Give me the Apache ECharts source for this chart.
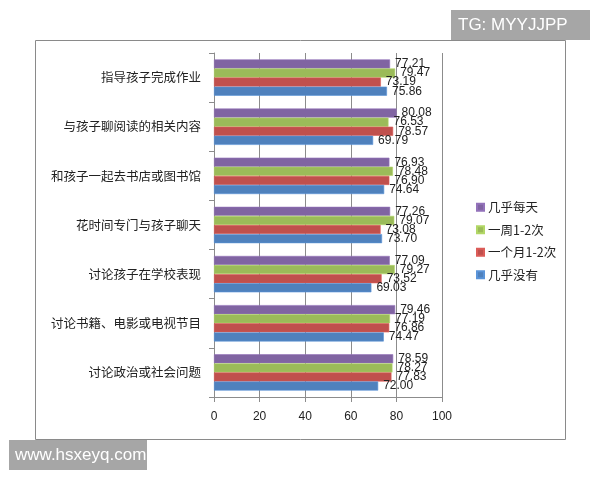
<!DOCTYPE html>
<html>
<head>
<meta charset="utf-8">
<script src="https://cdn.jsdelivr.net/npm/echarts@6/dist/echarts.min.js"></script>
<style>
html, body { margin: 0; padding: 0; background: #fff; }
#chart { width: 600px; height: 480px; }
</style>
</head>
<body>
<div id="chart"></div>
<script>
// 类目，从下到上
var categories = ['讨论政治或社会问题', '讨论书籍、电影或电视节目', '讨论孩子在学校表现',
	'花时间专门与孩子聊天', '和孩子一起去书店或图书馆', '与孩子聊阅读的相关内容', '指导孩子完成作业'];
// 系列，组内从上到下
var seriesNames = ['几乎每天', '一周1-2次', '一个月1-2次', '几乎没有'];
var daily = [78.59, 79.46, 77.09, 77.26, 76.93, 80.08, 77.21];
var weekly = [78.27, 77.19, 79.27, 79.07, 78.48, 76.53, 79.47];
var monthly = [77.83, 76.86, 73.52, 73.08, 76.90, 78.57, 73.19];
var almostNever = [72.00, 74.47, 69.03, 73.70, 74.64, 69.79, 75.86];
var xTicks = [0, 20, 40, 60, 80, 100];

var colors = ['#8064A2', '#9BBB59', '#C0504D', '#4F81BD'];
var dataList = [daily, weekly, monthly, almostNever];

var myChart = echarts.init(document.getElementById('chart'));

// 拼出四个系列
var series = dataList.map(function(item, index) {
	return {
		name : seriesNames[index],
		type : 'bar',
		data : item,
		barGap : '0%',
		barCategoryGap : '26%',
		itemStyle : {
			color : colors[index],
			borderColor : echarts.color.lift(colors[index], -0.15),
			borderWidth : 0.6
		},
		label : {
			show : true,
			position : 'right',
			distance : 5,
			color : '#222',
			fontSize : 12,
			fontFamily : 'Liberation Sans',
			formatter : function(p) {
				return p.value.toFixed(2);
			}
		}
	};
});

var option = {
	animation : false,
	textStyle : { fontFamily : 'Noto Sans CJK SC' },
	legend : {
		orient : 'vertical',
		left : 471,
		top : 196,
		itemGap : 10,
		itemWidth : 7,
		itemHeight : 7,
		icon : 'rect',
		data : seriesNames,
		textStyle : { color : '#222', fontSize : 12.5, padding : [0, 0, 0, -1] }
	},
	grid : {
		left : 214,
		top : 53,
		right : 158,
		bottom : 83
	},
	xAxis : {
		type : 'value',
		min : 0,
		max : 100,
		interval : 20,
		axisLine : { show : true, lineStyle : { color : '#8c8c8c' } },
		axisTick : { show : true, length : 5, lineStyle : { color : '#8c8c8c' } },
		splitLine : { lineStyle : { color : '#8c8c8c' } },
		axisLabel : {
			color : '#222',
			fontSize : 12,
			margin : 14,
			fontFamily : 'Liberation Sans',
			formatter : function(v) {
				return xTicks.indexOf(v) >= 0 ? String(v) : '';
			}
		}
	},
	yAxis : {
		type : 'category',
		data : categories,
		axisLine : { show : true, lineStyle : { color : '#8c8c8c' } },
		axisTick : { show : true, length : 5, lineStyle : { color : '#8c8c8c' } },
		axisLabel : { color : '#222', fontSize : 12.5, margin : 13 }
	},
	series : series,
	graphic : [
		// 外框
		{
			type : 'rect',
			shape : { x : 35.5, y : 40.5, width : 530, height : 399 },
			style : { fill : 'none', stroke : '#8a8a8a', lineWidth : 1 },
			z : -1
		},
		// 水印
		{
			type : 'group',
			left : 451,
			top : 10,
			children : [
				{ type : 'rect', shape : { width : 139, height : 30 }, style : { fill : '#a6a6a6' } },
				{ type : 'text', x : 7, y : 15, style : { text : 'TG: MYYJJPP', fill : '#fff', font : '17px Liberation Sans', verticalAlign : 'middle' } }
			]
		},
		{
			type : 'group',
			left : 9,
			top : 440,
			children : [
				{ type : 'rect', shape : { width : 138, height : 30 }, style : { fill : '#a6a6a6' } },
				{ type : 'text', x : 6, y : 15, style : { text : 'www.hsxeyq.com', fill : '#fff', font : '17px Liberation Sans', verticalAlign : 'middle' } }
			]
		}
	]
};
myChart.setOption(option);
</script>
</body>
</html>
